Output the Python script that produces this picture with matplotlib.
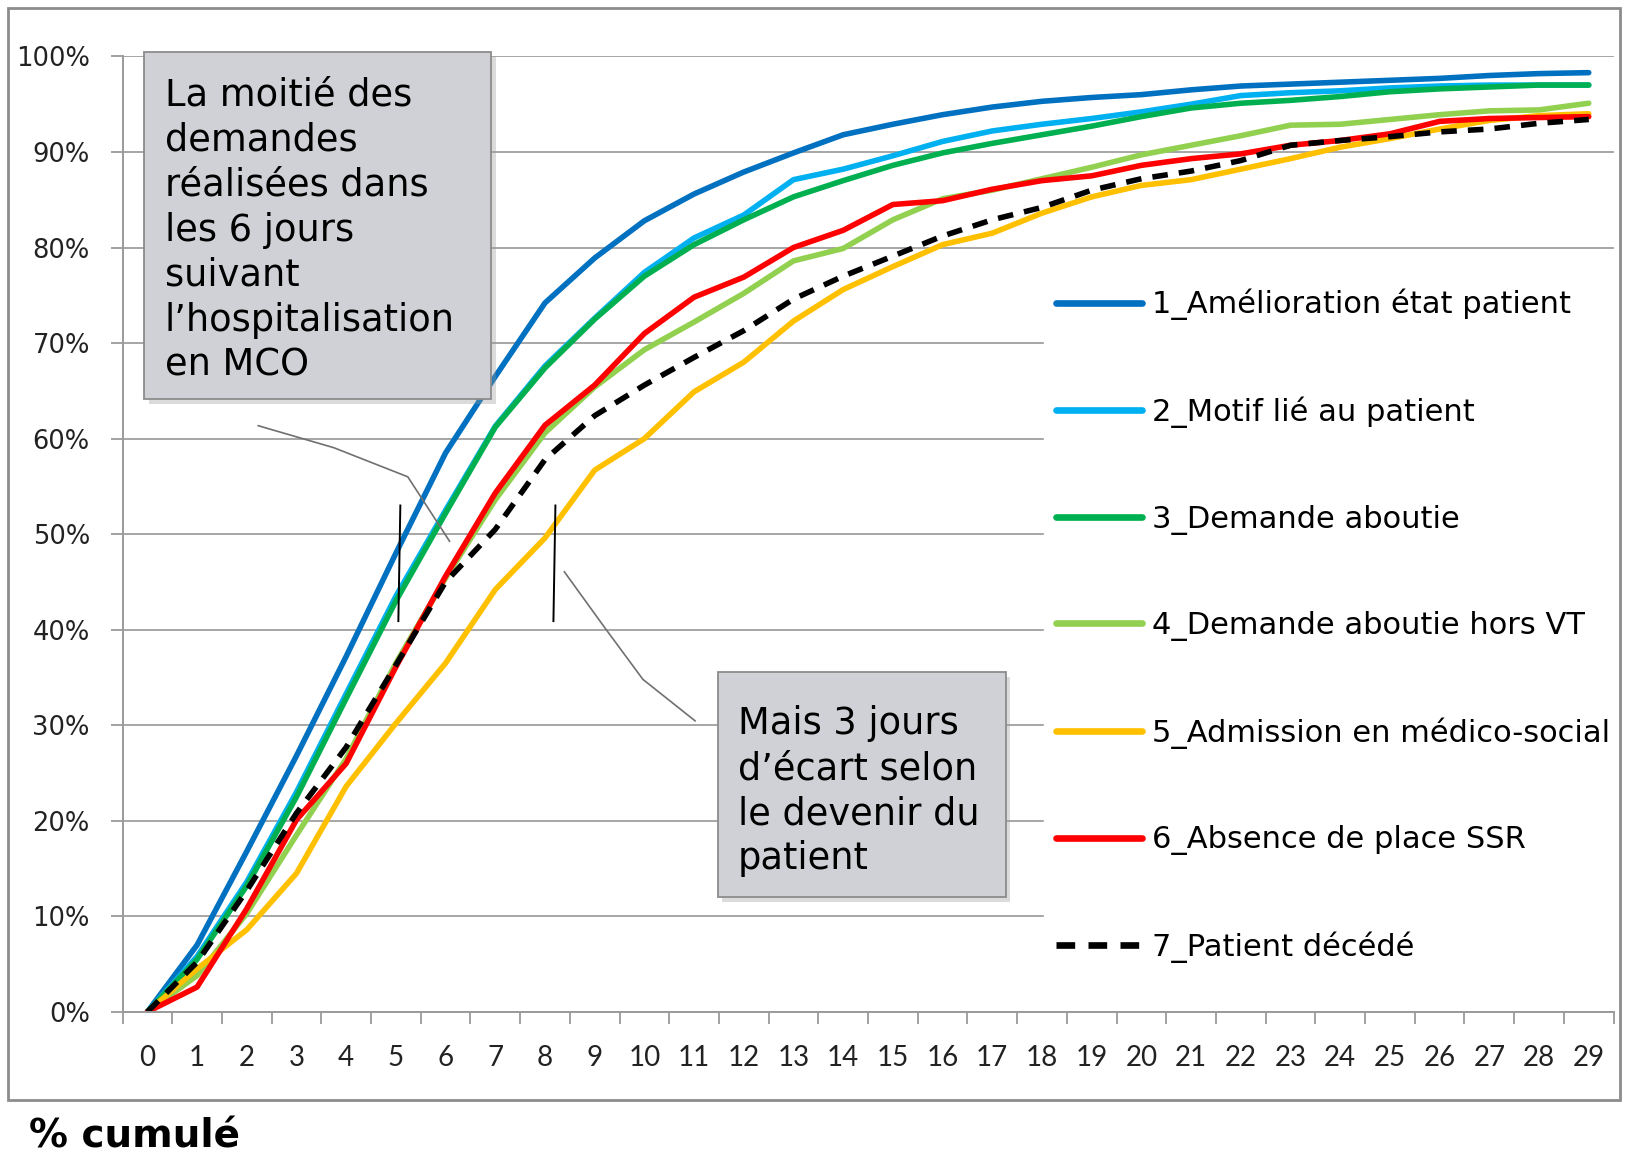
import numpy as np
import matplotlib.pyplot as plt
from matplotlib.patches import Rectangle

plt.rcParams['font.family'] = ['DejaVu Sans']

# days after MCO hospitalisation, cumulative % of requests
days = list(range(30))

amelioration = [0, 7.0, 16.8, 26.8, 37.2, 48.0, 58.5, 66.5, 74.2, 78.9, 82.8, 85.6, 87.9, 89.9, 91.8,
                92.9, 93.9, 94.7, 95.3, 95.7, 96.0, 96.5, 96.9, 97.1, 97.3, 97.5, 97.7, 98.0, 98.2, 98.3]
motif_patient = [0, 5.8, 13.6, 23.0, 33.3, 43.5, 52.5, 61.3, 67.6, 72.6, 77.4, 81.0, 83.4, 87.1, 88.2,
                 89.6, 91.1, 92.2, 92.9, 93.5, 94.2, 95.0, 95.9, 96.2, 96.4, 96.7, 96.9, 97.0, 97.0, 97.0]
demande_aboutie = [0, 5.5, 13.2, 22.5, 32.8, 43.0, 52.2, 61.2, 67.4, 72.5, 77.0, 80.3, 82.9, 85.3, 87.0,
                   88.6, 89.9, 90.9, 91.8, 92.7, 93.7, 94.6, 95.1, 95.4, 95.8, 96.3, 96.6, 96.8, 97.0, 97.0]
aboutie_hors_vt = [0, 3.8, 10.3, 18.5, 26.5, 36.5, 45.4, 53.6, 60.6, 65.4, 69.3, 72.2, 75.2, 78.6, 79.9,
                   82.9, 85.1, 86.0, 87.2, 88.4, 89.7, 90.7, 91.7, 92.8, 92.9, 93.4, 93.9, 94.3, 94.4, 95.1]
medico_social = [0, 4.5, 8.6, 14.5, 23.6, 30.2, 36.5, 44.2, 49.6, 56.7, 60.0, 64.9, 68.0, 72.3, 75.6,
                 78.0, 80.3, 81.5, 83.6, 85.3, 86.5, 87.1, 88.2, 89.3, 90.5, 91.4, 92.4, 93.3, 93.8, 94.0]
absence_ssr = [0, 2.6, 10.8, 20.1, 26.0, 36.1, 45.6, 54.3, 61.4, 65.6, 71.0, 74.8, 76.9, 80.0, 81.8,
               84.5, 84.9, 86.1, 87.0, 87.5, 88.6, 89.3, 89.8, 90.7, 91.2, 91.9, 93.2, 93.5, 93.6, 93.7]
decede = [0, 5.2, 12.7, 20.8, 27.7, 36.3, 45.0, 50.5, 57.8, 62.4, 65.6, 68.5, 71.3, 74.6, 77.0,
          79.1, 81.2, 82.9, 84.2, 86.0, 87.2, 88.0, 89.1, 90.7, 91.2, 91.6, 92.1, 92.4, 93.0, 93.4]

series = [amelioration, motif_patient, demande_aboutie, aboutie_hors_vt, medico_social, absence_ssr, decede]
labels = ["1_Amélioration état patient", "2_Motif lié au patient", "3_Demande aboutie",
          "4_Demande aboutie hors VT", "5_Admission en médico-social", "6_Absence de place SSR",
          "7_Patient décédé"]
colors = ["#0070C0", "#00B0F0", "#00B050", "#92D050", "#FFC000", "#FF0000", "black"]

W, H = 1639, 1152
fig = plt.figure(figsize=(W / 100, H / 100), dpi=100)
ax = fig.add_axes([122.5 / W, 1 - 1011.9 / H, (1613.6 - 122.5) / W, (1011.9 - 56.4) / H])

lines = []
for vals, lab, col in zip(series, labels, colors):
    if col == "black":
        ln, = ax.plot(days, vals, color=col, lw=4, label=lab, dashes=(2.8, 2.0),
                      solid_capstyle='round', dash_capstyle='butt')
    else:
        ln, = ax.plot(days, vals, color=col, lw=4, label=lab, solid_capstyle='round')
    lines.append(ln)

ax.set_xlim(-0.5, 29.5)
ax.set_ylim(0, 100)
ax.set_yticks(np.arange(0, 101, 10))
ax.set_yticklabels([f"{v}%" for v in range(0, 101, 10)])
ax.set_xticks(days)
ax.set_xticklabels([str(d) for d in days], family='Lato', fontsize=20, color='#222222')
ax.set_xticks(np.arange(-0.5, 30, 1), minor=True)
ax.tick_params(axis='x', which='major', length=0, pad=23.5)
ax.tick_params(axis='x', which='minor', length=8.5, width=1.3, color='#9a9a9a', direction='out')
ax.tick_params(axis='y', length=8.5, width=1.3, color='#9a9a9a', pad=15, labelsize=18.5,
               labelcolor='#222222')
ax.grid(axis='y', color='#a6a6a6', lw=1.4, zorder=0)
ax.set_axisbelow(True)
for s in ['top', 'right']:
    ax.spines[s].set_visible(False)
for s in ['left', 'bottom']:
    ax.spines[s].set_color('#9a9a9a')
    ax.spines[s].set_linewidth(1.4)

leg = ax.legend(handles=lines, loc='upper left', bbox_to_anchor=(0.618, 0.7696), fontsize=22.0,
                frameon=True, fancybox=False, framealpha=1, edgecolor='white', facecolor='white',
                borderaxespad=0, borderpad=0.4, handlelength=2.8, handletextpad=0.34,
                labelspacing=2.50)
for h in leg.legend_handles:
    h.set_linewidth(4.8)

# callout boxes
def callout(x0, x1, y0, y1, txt, tx, ty):
    ax.add_patch(Rectangle((x0 + 0.09, y0 - 0.5), x1 - x0, y1 - y0, facecolor='#9a9a9a', alpha=0.35,
                           edgecolor='none', zorder=5, clip_on=False))
    ax.add_patch(Rectangle((x0, y0), x1 - x0, y1 - y0, facecolor='#D0D1D6', edgecolor='#8c8c8c',
                           lw=1.3, zorder=6, clip_on=False))
    ax.text(tx, ty, txt, fontsize=26.5, va='top', ha='left', linespacing=1.277, zorder=7,
            color='black', clip_on=False)

callout(-0.06, 6.92, 64.15, 100.5,
        "La moitié des\ndemandes\nréalisées dans\nles 6 jours\nsuivant\nl’hospitalisation\nen MCO",
        0.35, 97.9)
callout(11.48, 17.27, 12.03, 35.56, "Mais 3 jours\nd’écart selon\nle devenir du\npatient",
        11.88, 32.1)

# leader lines and half-way markers
ax.plot([2.23, 3.75, 5.24, 6.08], [61.35, 59.05, 56.0, 49.26], color='#707070', lw=1.2, zorder=4)
ax.plot([8.39, 9.19, 9.97, 11.02], [46.06, 40.3, 34.8, 30.46], color='#707070', lw=1.2, zorder=4)
ax.plot([5.09, 5.05], [53.0, 40.9], color='black', lw=1.4, zorder=8)
ax.plot([8.21, 8.17], [53.0, 40.9], color='black', lw=1.4, zorder=8)

# outer frame and caption
fig.add_artist(Rectangle((8.4 / W, 1 - 1100 / H), (1620 - 8.4) / W, (1100 - 8.4) / H,
                         transform=fig.transFigure, fill=False, edgecolor='#8c8c8c', lw=2))
fig.text(29 / W, 1 - 1147 / H, "% cumulé", fontsize=28, fontweight='bold', va='baseline')

fig.savefig("out.png", dpi=100)
